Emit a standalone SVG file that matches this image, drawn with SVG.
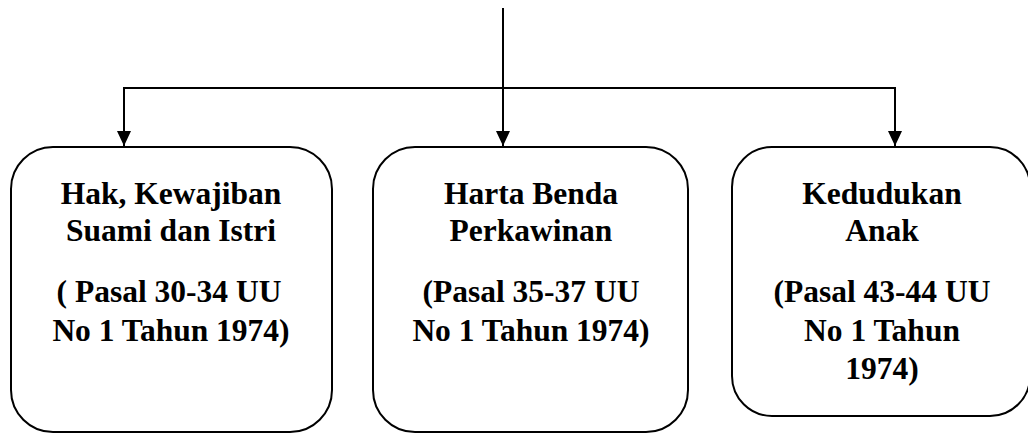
<svg xmlns="http://www.w3.org/2000/svg" width="1028" height="433" viewBox="0 0 1028 433">
  <style>
    .box { fill: #ffffff; stroke: #000000; stroke-width: 2; }
    .wire { fill: none; stroke: #000000; stroke-width: 2; }
    .label { font-family: "Liberation Serif", "Times New Roman", serif; font-weight: bold; font-size: 31.5px; fill: #000000; text-anchor: middle; }
  </style>
  <defs>
    <marker id="arrow" markerUnits="userSpaceOnUse" markerWidth="16" markerHeight="16" viewBox="0 0 16 16" refX="15" refY="8" orient="auto">
      <path d="M0,1 L15,8 L0,15 Z" fill="#000000"/>
    </marker>
  </defs>

  <!-- connectors: trunk, horizontal bar and the two outer drops -->
  <g id="connectors">
    <line class="wire" x1="503" y1="8" x2="503" y2="146" marker-end="url(#arrow)"/>
    <line class="wire" x1="123" y1="88" x2="896" y2="88"/>
    <line class="wire" x1="124" y1="88" x2="124" y2="146" marker-end="url(#arrow)"/>
    <line class="wire" x1="895" y1="88" x2="895" y2="146" marker-end="url(#arrow)"/>
  </g>

  <g id="node-hak-kewajiban">
    <rect class="box" x="11" y="147" width="321" height="285" rx="42" ry="42"/>
    <text class="label" x="171" y="204">Hak, Kewajiban</text>
    <text class="label" x="171" y="241">Suami dan Istri</text>
    <text class="label" x="169" y="302">( Pasal 30-34 UU</text>
    <text class="label" x="171" y="341">No 1 Tahun 1974)</text>
  </g>

  <g id="node-harta-benda">
    <rect class="box" x="373" y="147" width="315" height="285" rx="42" ry="42"/>
    <text class="label" x="531" y="204">Harta Benda</text>
    <text class="label" x="531" y="241">Perkawinan</text>
    <text class="label" x="531" y="302">(Pasal 35-37 UU</text>
    <text class="label" x="531" y="341">No 1 Tahun 1974)</text>
  </g>

  <g id="node-kedudukan-anak">
    <rect class="box" x="732" y="147" width="298" height="269" rx="40" ry="40"/>
    <text class="label" x="882" y="204">Kedudukan</text>
    <text class="label" x="882" y="241">Anak</text>
    <text class="label" x="882" y="302">(Pasal 43-44 UU</text>
    <text class="label" x="882" y="341">No 1 Tahun</text>
    <text class="label" x="882" y="379">1974)</text>
  </g>
</svg>
